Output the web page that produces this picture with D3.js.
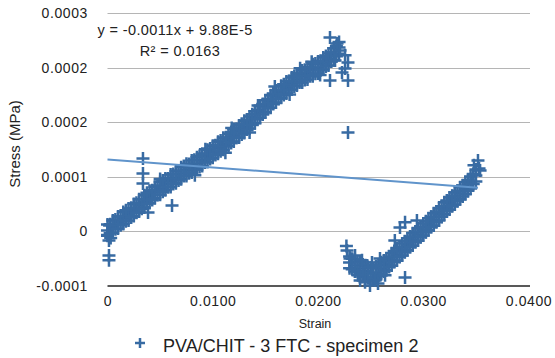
<!DOCTYPE html>
<html>
<head>
<meta charset="utf-8">
<script src="https://cdn.jsdelivr.net/npm/d3@7"></script>
<style>
  html, body { margin: 0; padding: 0; background: #fff; }
  svg { display: block; }
</style>
</head>
<body>
<div id="chart"></div>
<script>

// axis ticks
const xTicks = [0, 0.01, 0.02, 0.03, 0.04];
const xTickLabels = ["0", "0.0100", "0.0200", "0.0300", "0.0400"];
const yTicks = [-0.000075, 0, 0.000075, 0.00015, 0.000225, 0.0003];
const yTickLabels = ["-0.0001", "0", "0.0001", "0.0002", "0.0002", "0.0003"];

// loading branch, [strain, stress (MPa)]
const loadMid = [
  [0.0000, 0.0000014], [0.0005, 0.0000062], [0.0010, 0.0000124], [0.0015, 0.0000179],
  [0.0020, 0.0000234], [0.0025, 0.0000288], [0.0030, 0.0000357], [0.0035, 0.0000412],
  [0.0040, 0.0000474], [0.0045, 0.0000536], [0.0050, 0.0000591], [0.0055, 0.0000646],
  [0.0060, 0.0000694], [0.0065, 0.0000742], [0.0070, 0.0000797], [0.0075, 0.0000845],
  [0.0080, 0.0000893], [0.0085, 0.0000934], [0.0090, 0.0000982], [0.0095, 0.0001037],
  [0.0100, 0.0001092], [0.0105, 0.0001147], [0.0110, 0.0001202], [0.0115, 0.0001257],
  [0.0120, 0.0001319], [0.0125, 0.0001374], [0.0130, 0.0001435], [0.0135, 0.0001497],
  [0.0140, 0.0001566], [0.0145, 0.0001641], [0.0150, 0.0001717], [0.0155, 0.0001786],
  [0.0160, 0.0001854], [0.0165, 0.0001916], [0.0170, 0.0001978], [0.0175, 0.0002033],
  [0.0180, 0.0002088], [0.0185, 0.0002129], [0.0190, 0.0002170], [0.0195, 0.0002212],
  [0.0200, 0.0002253], [0.0205, 0.0002308], [0.0210, 0.0002363], [0.0215, 0.0002431],
  [0.0220, 0.0002527]
];
const loadHigh = [
  [0.0000, 0.0000095], [0.0005, 0.0000150], [0.0010, 0.0000205], [0.0015, 0.0000265],
  [0.0020, 0.0000315], [0.0025, 0.0000375], [0.0030, 0.0000440], [0.0035, 0.0000495],
  [0.0040, 0.0000560], [0.0045, 0.0000615], [0.0050, 0.0000680], [0.0055, 0.0000725],
  [0.0060, 0.0000780], [0.0065, 0.0000825], [0.0070, 0.0000880], [0.0075, 0.0000930],
  [0.0080, 0.0000975], [0.0085, 0.0001020], [0.0090, 0.0001065], [0.0095, 0.0001120],
  [0.0100, 0.0001175], [0.0105, 0.0001230], [0.0110, 0.0001285], [0.0115, 0.0001340],
  [0.0120, 0.0001405], [0.0125, 0.0001455], [0.0130, 0.0001520], [0.0135, 0.0001580],
  [0.0140, 0.0001650], [0.0145, 0.0001725], [0.0150, 0.0001800], [0.0155, 0.0001870],
  [0.0160, 0.0001935], [0.0165, 0.0002000], [0.0170, 0.0002060], [0.0175, 0.0002115],
  [0.0180, 0.0002170], [0.0185, 0.0002210], [0.0190, 0.0002255], [0.0195, 0.0002295],
  [0.0200, 0.0002335], [0.0205, 0.0002390], [0.0210, 0.0002445], [0.0215, 0.0002515],
  [0.0220, 0.0002600]
];
const loadLow = [
  [0.0000, -0.0000060], [0.0005, -0.0000020], [0.0010, 0.0000040], [0.0015, 0.0000100],
  [0.0020, 0.0000150], [0.0025, 0.0000210], [0.0030, 0.0000275], [0.0035, 0.0000330],
  [0.0040, 0.0000390], [0.0045, 0.0000455], [0.0050, 0.0000505], [0.0055, 0.0000565],
  [0.0060, 0.0000610], [0.0065, 0.0000660], [0.0070, 0.0000715], [0.0075, 0.0000760],
  [0.0080, 0.0000810], [0.0085, 0.0000850], [0.0090, 0.0000900], [0.0095, 0.0000955],
  [0.0100, 0.0001010], [0.0105, 0.0001065], [0.0110, 0.0001120], [0.0115, 0.0001175],
  [0.0120, 0.0001235], [0.0125, 0.0001290], [0.0130, 0.0001350], [0.0135, 0.0001415],
  [0.0140, 0.0001485], [0.0145, 0.0001560], [0.0150, 0.0001635], [0.0155, 0.0001700],
  [0.0160, 0.0001770], [0.0165, 0.0001835], [0.0170, 0.0001895], [0.0175, 0.0001950],
  [0.0180, 0.0002005], [0.0185, 0.0002045], [0.0190, 0.0002085], [0.0195, 0.0002130],
  [0.0200, 0.0002170], [0.0205, 0.0002225], [0.0210, 0.0002280], [0.0215, 0.0002350],
  [0.0220, 0.0002440]
];
const loadUpper = [
  [0.00025, 0.0000098], [0.00075, 0.0000165], [0.00125, 0.0000205], [0.00175, 0.0000290],
  [0.00225, 0.0000320], [0.00275, 0.0000395], [0.00325, 0.0000440], [0.00375, 0.0000530],
  [0.00425, 0.0000565], [0.00475, 0.0000630], [0.00525, 0.0000700], [0.00575, 0.0000725],
  [0.00625, 0.0000790], [0.00675, 0.0000835], [0.00725, 0.0000900], [0.00775, 0.0000925],
  [0.00825, 0.0000985], [0.00875, 0.0001035], [0.00925, 0.0001065], [0.00975, 0.0001140],
  [0.01025, 0.0001185], [0.01075, 0.0001250], [0.01125, 0.0001290], [0.01175, 0.0001365],
  [0.01225, 0.0001405], [0.01275, 0.0001480], [0.01325, 0.0001530], [0.01375, 0.0001610],
  [0.01425, 0.0001665], [0.01475, 0.0001750], [0.01525, 0.0001815], [0.01575, 0.0001895],
  [0.01625, 0.0001945], [0.01675, 0.0002020], [0.01725, 0.0002065], [0.01775, 0.0002135],
  [0.01825, 0.0002170], [0.01875, 0.0002220], [0.01925, 0.0002250], [0.01975, 0.0002305],
  [0.02025, 0.0002345], [0.02075, 0.0002410], [0.02125, 0.0002460], [0.02175, 0.0002545]
];
const loadLower = [
  [0.00025, -0.0000025], [0.00075, 0.0000030], [0.00125, 0.0000085], [0.00175, 0.0000140],
  [0.00225, 0.0000190], [0.00275, 0.0000255], [0.00325, 0.0000310], [0.00375, 0.0000380],
  [0.00425, 0.0000430], [0.00475, 0.0000500], [0.00525, 0.0000545], [0.00575, 0.0000605],
  [0.00625, 0.0000650], [0.00675, 0.0000700], [0.00725, 0.0000760], [0.00775, 0.0000800],
  [0.00825, 0.0000850], [0.00875, 0.0000885], [0.00925, 0.0000945], [0.00975, 0.0000995],
  [0.01025, 0.0001050], [0.01075, 0.0001100], [0.01125, 0.0001165], [0.01175, 0.0001215],
  [0.01225, 0.0001285], [0.01275, 0.0001330], [0.01325, 0.0001400], [0.01375, 0.0001460],
  [0.01425, 0.0001540], [0.01475, 0.0001605], [0.01525, 0.0001690], [0.01575, 0.0001750],
  [0.01625, 0.0001820], [0.01675, 0.0001875], [0.01725, 0.0001945], [0.01775, 0.0001990],
  [0.01825, 0.0002045], [0.01875, 0.0002080], [0.01925, 0.0002130], [0.01975, 0.0002165],
  [0.02025, 0.0002215], [0.02075, 0.0002265], [0.02125, 0.0002335], [0.02175, 0.0002405]
];
const loadStray = [
  [0.00014, -0.0000124], [0.00014, -0.0000330], [0.00014, -0.0000398], [0.0000, -0.0000050],
  [0.0003, -0.0000090], [0.0002, 0.0000080], [0.00337, 0.0001003], [0.00337, 0.0000797],
  [0.00337, 0.0000659], [0.00613, 0.0000357], [0.00385, 0.0000261],
  [0.02114, 0.0002665], [0.02181, 0.0002582], [0.02209, 0.0002486], [0.02257, 0.0002418],
  [0.02285, 0.0002321], [0.02257, 0.0002239], [0.02285, 0.0002074], [0.02114, 0.0002074],
  [0.02228, 0.0002184], [0.02162, 0.0002349], [0.02285, 0.0001360],
  [0.0050, 0.0000720], [0.0093, 0.0001130], [0.0118, 0.0001420], [0.0143, 0.0001730],
  [0.0159, 0.0001990], [0.0183, 0.0002240], [0.0194, 0.0002330],
  [0.0083, 0.0000770], [0.0112, 0.0001080], [0.0135, 0.0001360], [0.0173, 0.0001880],
  [0.0202, 0.0002150]
];

// second branch after the drop
const reloadMid = [
  [0.0230, -0.0000426], [0.0235, -0.0000467], [0.0240, -0.0000508], [0.0245, -0.0000549],
  [0.0250, -0.0000577], [0.0255, -0.0000563], [0.0260, -0.0000508], [0.0265, -0.0000453],
  [0.0270, -0.0000385], [0.0275, -0.0000316], [0.0280, -0.0000247], [0.0285, -0.0000179],
  [0.0290, -0.0000110], [0.0295, -0.0000041], [0.0300, 0.0000027], [0.0305, 0.0000096],
  [0.0310, 0.0000165], [0.0315, 0.0000234], [0.0320, 0.0000316], [0.0325, 0.0000385],
  [0.0330, 0.0000453], [0.0335, 0.0000522], [0.0340, 0.0000591], [0.0345, 0.0000673],
  [0.0350, 0.0000769], [0.0353, 0.0000865]
];
const reloadHigh = [
  [0.0230, -0.0000345], [0.0235, -0.0000385], [0.0240, -0.0000425], [0.0245, -0.0000465],
  [0.0250, -0.0000495], [0.0255, -0.0000480], [0.0260, -0.0000425], [0.0265, -0.0000370],
  [0.0270, -0.0000300], [0.0275, -0.0000235], [0.0280, -0.0000165], [0.0285, -0.0000095],
  [0.0290, -0.0000025], [0.0295, 0.0000040], [0.0300, 0.0000110], [0.0305, 0.0000180],
  [0.0310, 0.0000250], [0.0315, 0.0000315], [0.0320, 0.0000400], [0.0325, 0.0000465],
  [0.0330, 0.0000535], [0.0335, 0.0000605], [0.0340, 0.0000675], [0.0345, 0.0000755],
  [0.0350, 0.0000850]
];
const reloadLow = [
  [0.0230, -0.0000505], [0.0235, -0.0000550], [0.0240, -0.0000590], [0.0245, -0.0000630],
  [0.0250, -0.0000660], [0.0255, -0.0000645], [0.0260, -0.0000590], [0.0265, -0.0000535],
  [0.0270, -0.0000470], [0.0275, -0.0000400], [0.0280, -0.0000330], [0.0285, -0.0000260],
  [0.0290, -0.0000195], [0.0295, -0.0000125], [0.0300, -0.0000055], [0.0305, 0.0000015],
  [0.0310, 0.0000080], [0.0315, 0.0000150], [0.0320, 0.0000235], [0.0325, 0.0000300],
  [0.0330, 0.0000370], [0.0335, 0.0000440], [0.0340, 0.0000510], [0.0345, 0.0000590],
  [0.0350, 0.0000685]
];
const reloadUpper = [
  [0.02325, -0.0000375], [0.02375, -0.0000420], [0.02425, -0.0000455], [0.02475, -0.0000490],
  [0.02525, -0.0000505], [0.02575, -0.0000460], [0.02625, -0.0000400], [0.02675, -0.0000345],
  [0.02725, -0.0000270], [0.02775, -0.0000210], [0.02825, -0.0000135], [0.02875, -0.0000070],
  [0.02925, 0.0000000], [0.02975, 0.0000065], [0.03025, 0.0000140], [0.03075, 0.0000200],
  [0.03125, 0.0000275], [0.03175, 0.0000345], [0.03225, 0.0000425], [0.03275, 0.0000490],
  [0.03325, 0.0000560], [0.03375, 0.0000630], [0.03425, 0.0000705], [0.03475, 0.0000790]
];
const reloadLower = [
  [0.02325, -0.0000520], [0.02375, -0.0000555], [0.02425, -0.0000600], [0.02475, -0.0000640],
  [0.02525, -0.0000655], [0.02575, -0.0000610], [0.02625, -0.0000550], [0.02675, -0.0000490],
  [0.02725, -0.0000420], [0.02775, -0.0000350], [0.02825, -0.0000285], [0.02875, -0.0000215],
  [0.02925, -0.0000150], [0.02975, -0.0000080], [0.03025, -0.0000010], [0.03075, 0.0000060],
  [0.03125, 0.0000125], [0.03175, 0.0000200], [0.03225, 0.0000280], [0.03275, 0.0000345],
  [0.03325, 0.0000415], [0.03375, 0.0000480], [0.03425, 0.0000560], [0.03475, 0.0000650]
];
const reloadStray = [
  [0.02276, -0.0000261], [0.02304, -0.0000371], [0.0227, -0.0000200],
  [0.0240, -0.0000673], [0.02494, -0.0000742], [0.0257, -0.0000714], [0.02447, -0.0000700],
  [0.02827, -0.0000632], [0.02779, 0.0000055], [0.02827, 0.0000124], [0.0294, 0.0000151],
  [0.0273, -0.0000124], [0.0352, 0.0000975], [0.03482, 0.0000907], [0.0354, 0.0000838],
  [0.02352, -0.0000330], [0.02418, -0.0000398], [0.02513, -0.0000426], [0.02589, -0.0000371],
  [0.02637, -0.0000604], [0.02542, -0.0000673], [0.02380, -0.0000604]
];

// linear trend shown on the chart
const trendSlope = -0.0011;
const trendIntercept = 0.0000988;
const trendRange = [0, 0.0352];

const seriesName = "PVA/CHIT - 3 FTC - specimen 2";
const markColor = "#386ba3";
const trendColor = "#6094cb";

let width = 555, height = 358;

let svg = d3.select("#chart")
  .append("svg")
  .attr("width", width)
  .attr("height", height)
  .attr("font-family", "'Liberation Sans', Arial, sans-serif");

let x = d3.scaleLinear().domain([0, 0.04]).range([107.5, 528.5]);
let y = d3.scaleLinear().domain([-0.000075, 0.0003]).range([286, 13]);

// grid lines
svg.append("g")
  .selectAll("line")
  .data(yTicks.slice(1))
  .join("line")
  .attr("x1", x(0))
  .attr("x2", 530)
  .attr("y1", d => Math.round(y(d)) + 0.5)
  .attr("y2", d => Math.round(y(d)) + 0.5)
  .attr("stroke", "#b5b5b5")
  .attr("stroke-width", 1);

// bottom axis line
svg.append("line")
  .attr("x1", x(0)).attr("x2", 530)
  .attr("y1", y(yTicks[0])).attr("y2", y(yTicks[0]))
  .attr("stroke", "#222")
  .attr("stroke-width", 1.5);

// y tick labels
let yAxis = d3.axisLeft(y)
  .tickValues(yTicks)
  .tickFormat((d, i) => yTickLabels[i])
  .tickSize(0)
  .tickPadding(0);

svg.append("g")
  .attr("transform", "translate(88,0)")
  .call(yAxis)
  .call(g => g.select(".domain").remove())
  .call(g => g.selectAll("text")
    .attr("font-family", "'Liberation Sans', Arial, sans-serif")
    .attr("font-size", 14)
    .attr("letter-spacing", 0.6)
    .attr("fill", "#222"));

// x tick labels
let xAxis = d3.axisBottom(x)
  .tickValues(xTicks)
  .tickFormat((d, i) => xTickLabels[i])
  .tickSize(0)
  .tickPadding(0);

svg.append("g")
  .attr("transform", "translate(0,296)")
  .call(xAxis)
  .call(g => g.select(".domain").remove())
  .call(g => g.selectAll("text")
    .attr("font-family", "'Liberation Sans', Arial, sans-serif")
    .attr("font-size", 14)
    .attr("letter-spacing", 0.6)
    .attr("fill", "#222"));

// axis titles
svg.append("text")
  .attr("transform", "translate(20,144) rotate(-90)")
  .attr("text-anchor", "middle")
  .attr("font-size", 15)
  .attr("fill", "#222")
  .text("Stress (MPa)");

svg.append("text")
  .attr("x", 315)
  .attr("y", 328)
  .attr("text-anchor", "middle")
  .attr("font-size", 12.5)
  .attr("fill", "#222")
  .text("Strain");

// scatter marks as plus signs
let allPoints = [].concat(loadMid, loadHigh, loadLow, loadUpper, loadLower, loadStray,
  reloadMid, reloadHigh, reloadLow, reloadUpper, reloadLower, reloadStray);

let plus = "M-6.5,0H6.5M0,-6.5V6.5";

svg.append("g")
  .attr("fill", "none")
  .attr("stroke", markColor)
  .attr("stroke-width", 2.5)
  .selectAll("path")
  .data(allPoints)
  .join("path")
  .attr("transform", d => `translate(${x(d[0])},${y(d[1])})`)
  .attr("d", plus);

// trend line on top
let line = d3.line()
  .x(d => x(d))
  .y(d => y(trendSlope * d + trendIntercept));

svg.append("path")
  .datum(trendRange)
  .attr("fill", "none")
  .attr("stroke", trendColor)
  .attr("stroke-width", 2)
  .attr("d", line);

// trend equation
svg.append("text")
  .attr("x", 175)
  .attr("y", 35)
  .attr("text-anchor", "middle")
  .attr("font-size", 14.5)
  .attr("letter-spacing", 0.4)
  .attr("fill", "#222")
  .text("y = -0.0011x + 9.88E-5");

svg.append("text")
  .attr("x", 180)
  .attr("y", 56)
  .attr("text-anchor", "middle")
  .attr("font-size", 14.5)
  .attr("letter-spacing", 0.4)
  .attr("fill", "#222")
  .text("R² = 0.0163");

// legend
svg.append("path")
  .attr("transform", "translate(140,343)")
  .attr("d", "M-5,0H5M0,-5V5")
  .attr("fill", "none")
  .attr("stroke", markColor)
  .attr("stroke-width", 2.5);

svg.append("text")
  .attr("x", 163)
  .attr("y", 352)
  .attr("font-size", 18)
  .attr("fill", "#222")
  .text(seriesName);

</script>
</body>
</html>
